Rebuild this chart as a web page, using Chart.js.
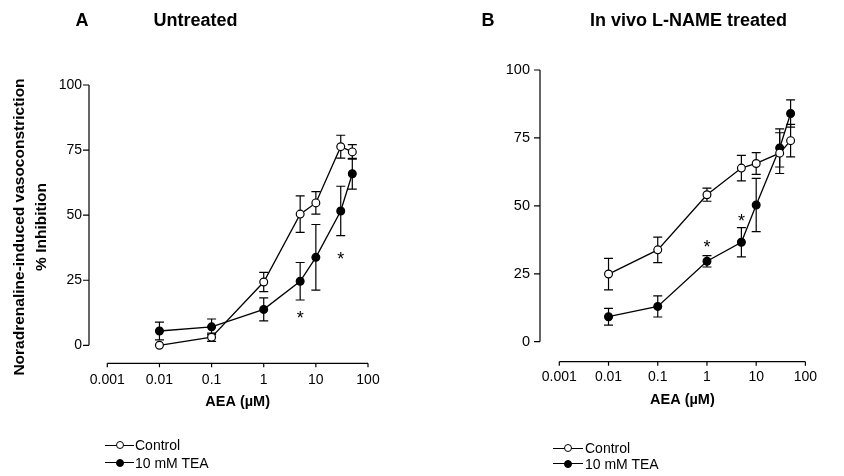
<!DOCTYPE html>
<html>
<head>
<meta charset="utf-8">
<script src="https://cdn.jsdelivr.net/npm/chart.js@4.4.1/dist/chart.umd.min.js"></script>
<style>
  html, body { margin: 0; padding: 0; background: #fff; }
  #page { position: relative; width: 844px; height: 476px; overflow: hidden; font-family: 'Liberation Sans', Arial, sans-serif; color: #000; }
  canvas { position: absolute; top: 0; }
  .lbl { position: absolute; transform: translate(-50%, -50%); white-space: nowrap; line-height: 1; }
  .ttl { font-weight: bold; font-size: 18px; }
  .leg { position: absolute; height: 16px; transform: translateY(-50%); white-space: nowrap; font-size: 14px; line-height: 16px; }
  .leg .ln { position: absolute; left: 0; top: 7.5px; height: 1.3px; background: #000; }
  .leg .dot { position: absolute; top: 4px; width: 6px; height: 6px; border: 1.2px solid #000; border-radius: 50%; }
  .leg .txt { position: absolute; top: 0; }
</style>
</head>
<body>
<div id="page">
  <canvas id="chartA" width="420" height="476" style="left:0"></canvas>
  <canvas id="chartB" width="424" height="476" style="left:420px"></canvas>

  <div class="lbl ttl" style="left:82px; top:20px">A</div>
  <div class="lbl ttl" style="left:195.5px; top:20px">Untreated</div>
  <div class="lbl ttl" style="left:488px; top:20px">B</div>
  <div class="lbl ttl" style="left:688.5px; top:20px">In vivo L-NAME treated</div>

  <div class="leg" style="left:105px; top:445px">
    <div class="ln" style="width:29px"></div><div class="dot" style="left:10.5px; background:#fff"></div><div class="txt" style="left:30px">Control</div>
  </div>
  <div class="leg" style="left:105px; top:462.5px">
    <div class="ln" style="width:29px"></div><div class="dot" style="left:10.5px; background:#000"></div><div class="txt" style="left:30px">10 mM TEA</div>
  </div>
  <div class="leg" style="left:553px; top:448px">
    <div class="ln" style="width:30px"></div><div class="dot" style="left:11px; background:#fff"></div><div class="txt" style="left:32px">Control</div>
  </div>
  <div class="leg" style="left:553px; top:463.5px">
    <div class="ln" style="width:30px"></div><div class="dot" style="left:11px; background:#000"></div><div class="txt" style="left:32px">10 mM TEA</div>
  </div>
</div>

<script>
// AEA concentrations (uM) shared by both panels
const CONC = [0.01, 0.1, 1, 5, 10, 30, 50];

// Panel A - untreated
const A_CONTROL = [0, 3.1, 24.3, 50.4, 54.7, 76.3, 74.3];
const A_CONTROL_SEM = [0, 1.6, 3.7, 7.0, 4.3, 4.4, 2.8];
const A_TEA = [5.5, 7.1, 13.8, 24.6, 33.8, 51.6, 65.9];
const A_TEA_SEM = [3.4, 3.0, 4.4, 7.2, 12.6, 9.5, 5.9];
const A_STAR_X = [5, 30];
const A_STAR_Y = [12, 34.5];

// Panel B - in vivo L-NAME treated
const B_CONTROL = [24.9, 33.8, 54.1, 63.9, 65.6, 69.4, 74.0];
const B_CONTROL_SEM = [5.8, 4.7, 2.4, 4.7, 4.0, 7.5, 6.0];
const B_TEA = [9.2, 13.0, 29.6, 36.6, 50.3, 71.3, 84.0];
const B_TEA_SEM = [3.1, 3.9, 2.1, 5.4, 9.8, 7.0, 5.0];
const B_STAR_X = [1, 5];
const B_STAR_Y = [36.5, 46];

// axis ticks
const X_TICKS = [0.001, 0.01, 0.1, 1, 10, 100];
const X_TICK_LABELS = ['0.001', '0.01', '0.1', '1', '10', '100'];
const Y_TICKS = [0, 25, 50, 75, 100];
const Y_TICK_LABELS = ['0', '25', '50', '75', '100'];

const FONT = "'Liberation Sans', Arial, sans-serif";
Chart.defaults.font.family = FONT;
Chart.defaults.color = '#000';

function toPoints(values) {
    return CONC.map((c, i) => ({ x: c, y: values[i] }));
}

/**
 * Prism-style axes: y line left of the plot, x line below it, both offset
 */
const detachedAxes = {
    id: 'detachedAxes',
    afterDraw(chart, args, opts) {
        const { ctx, chartArea, scales: { x, y } } = chart;
        const yLineX = chartArea.left - opts.yGap;
        const xLineY = chartArea.bottom + opts.xGap;
        ctx.save();
        ctx.strokeStyle = '#000';
        ctx.lineWidth = 1.2;
        ctx.beginPath();
        ctx.moveTo(yLineX, y.getPixelForValue(Y_TICKS[Y_TICKS.length - 1]));
        ctx.lineTo(yLineX, y.getPixelForValue(Y_TICKS[0]));
        Y_TICKS.forEach(v => {
            const py = y.getPixelForValue(v);
            ctx.moveTo(yLineX - 6, py);
            ctx.lineTo(yLineX, py);
        });
        ctx.moveTo(x.getPixelForValue(X_TICKS[0]), xLineY);
        ctx.lineTo(x.getPixelForValue(X_TICKS[X_TICKS.length - 1]), xLineY);
        X_TICKS.forEach(v => {
            const px = x.getPixelForValue(v);
            ctx.moveTo(px, xLineY);
            ctx.lineTo(px, xLineY + 4);
        });
        ctx.stroke();
        ctx.restore();
    }
};

/**
 * SEM bars with caps, drawn under the markers
 */
const errorBars = {
    id: 'errorBars',
    beforeDatasetsDraw(chart) {
        const { ctx, scales: { x, y } } = chart;
        ctx.save();
        ctx.strokeStyle = '#000';
        ctx.lineWidth = 1.2;
        chart.data.datasets.forEach(ds => {
            if (!ds.errors) return;
            ds.data.forEach((p, i) => {
                const err = ds.errors[i];
                if (!err) return;
                const px = x.getPixelForValue(p.x);
                const top = y.getPixelForValue(p.y + err);
                const bot = y.getPixelForValue(p.y - err);
                ctx.beginPath();
                ctx.moveTo(px, top);
                ctx.lineTo(px, bot);
                ctx.moveTo(px - 4.5, top);
                ctx.lineTo(px + 4.5, top);
                ctx.moveTo(px - 4.5, bot);
                ctx.lineTo(px + 4.5, bot);
                ctx.stroke();
            });
        });
        ctx.restore();
    }
};

/**
 * significance asterisks
 */
const starMarks = {
    id: 'starMarks',
    afterDatasetsDraw(chart, args, opts) {
        const { ctx, scales: { x, y } } = chart;
        ctx.save();
        ctx.fillStyle = '#000';
        ctx.font = '18px ' + FONT;
        ctx.textAlign = 'center';
        ctx.textBaseline = 'alphabetic';
        (opts.xs || []).forEach((sx, i) => {
            ctx.fillText('*', x.getPixelForValue(sx), y.getPixelForValue(opts.ys[i]) + 10);
        });
        ctx.restore();
    }
};

/**
 * two-line rotated y title (panel A only)
 */
const yTitle = {
    id: 'yTitle',
    afterDraw(chart, args, opts) {
        if (!opts.lines) return;
        const { ctx } = chart;
        ctx.save();
        ctx.fillStyle = '#000';
        ctx.font = 'bold 15.5px ' + FONT;
        ctx.textAlign = 'center';
        ctx.textBaseline = 'middle';
        opts.lines.forEach((line, i) => {
            ctx.save();
            ctx.translate(opts.xs[i], opts.centerY);
            ctx.rotate(-Math.PI / 2);
            ctx.fillText(line, 0, 0);
            ctx.restore();
        });
        ctx.restore();
    }
};

function makeDataset(label, values, sem, filled) {
    return {
        label: label,
        data: toPoints(values),
        errors: sem,
        borderColor: '#000',
        borderWidth: 1.3,
        backgroundColor: filled ? '#000' : '#fff',
        pointBackgroundColor: filled ? '#000' : '#fff',
        pointBorderColor: '#000',
        pointBorderWidth: 1.2,
        pointRadius: 3.9,
        pointHoverRadius: 3.9,
        tension: 0,
        clip: false
    };
}

function initPanelChart(canvasId, cfg) {
    const ctx = document.getElementById(canvasId);
    return new Chart(ctx, {
        type: 'line',
        data: {
            datasets: [
                makeDataset('Control', cfg.control, cfg.controlSem, false),
                makeDataset('10 mM TEA', cfg.tea, cfg.teaSem, true)
            ]
        },
        options: {
            responsive: false,
            animation: false,
            devicePixelRatio: 1,
            layout: {
                padding: { top: cfg.plotTop, right: cfg.padRight, bottom: 0, left: 0 }
            },
            plugins: {
                legend: { display: false },
                tooltip: { enabled: false },
                detachedAxes: { yGap: cfg.yGap, xGap: cfg.xGap },
                starMarks: { xs: cfg.starX, ys: cfg.starY },
                yTitle: cfg.yTitle || {}
            },
            scales: {
                x: {
                    type: 'logarithmic',
                    min: X_TICKS[0],
                    max: X_TICKS[X_TICKS.length - 1],
                    afterBuildTicks: s => { s.ticks = X_TICKS.map(v => ({ value: v })); },
                    afterFit: s => { s.height = cfg.xAxisHeight; },
                    grid: { display: false, drawTicks: false },
                    border: { display: false },
                    ticks: {
                        autoSkip: false,
                        maxRotation: 0,
                        padding: cfg.xTickPad,
                        font: { size: 14 },
                        color: '#000',
                        callback: v => X_TICK_LABELS[X_TICKS.indexOf(v)]
                    },
                    title: {
                        display: true,
                        text: 'AEA (µM)',
                        color: '#000',
                        font: { size: 14.5, weight: 'bold' },
                        padding: { top: 0, bottom: cfg.xTitlePad }
                    }
                },
                y: {
                    type: 'linear',
                    min: Y_TICKS[0],
                    max: Y_TICKS[Y_TICKS.length - 1],
                    afterBuildTicks: s => { s.ticks = Y_TICKS.map(v => ({ value: v })); },
                    afterFit: s => { s.width = cfg.yAxisWidth; },
                    grid: { display: false, drawTicks: false },
                    border: { display: false },
                    ticks: {
                        padding: cfg.yTickPad,
                        font: { size: cfg.yTickSize },
                        color: '#000',
                        callback: v => Y_TICK_LABELS[Y_TICKS.indexOf(v)]
                    }
                }
            }
        },
        plugins: [errorBars, detachedAxes, starMarks, yTitle]
    });
}

initPanelChart('chartA', {
    control: A_CONTROL, controlSem: A_CONTROL_SEM,
    tea: A_TEA, teaSem: A_TEA_SEM,
    starX: A_STAR_X, starY: A_STAR_Y,
    plotTop: 85, padRight: 52, xAxisHeight: 130.7, yAxisWidth: 107.3,
    yGap: 18.3, xGap: 18, xTickPad: 26.6, xTitlePad: 65.6,
    yTickPad: 25.3, yTickSize: 14,
    yTitle: {
        lines: ['Noradrenaline-induced vasoconstriction', '% Inhibition'],
        xs: [19.5, 42],
        centerY: 227
    }
});

initPanelChart('chartB', {
    control: B_CONTROL, controlSem: B_CONTROL_SEM,
    tea: B_TEA, teaSem: B_TEA_SEM,
    starX: B_STAR_X, starY: B_STAR_Y,
    plotTop: 70, padRight: 14, xAxisHeight: 134.3, yAxisWidth: 139.3,
    yGap: 19.3, xGap: 20, xTickPad: 26.9, xTitlePad: 67.3,
    yTickPad: 29.3, yTickSize: 14.5
});
</script>
</body>
</html>
